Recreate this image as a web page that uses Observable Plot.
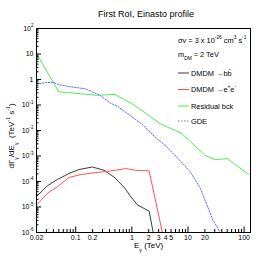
<!DOCTYPE html>
<html><head><meta charset="utf-8">
<script src="https://cdn.jsdelivr.net/npm/d3@7"></script>
<script src="https://cdn.jsdelivr.net/npm/@observablehq/plot@0.6"></script>
<style>
body{margin:0;background:#fff}
svg{font-family:"Liberation Sans",Arial,sans-serif}
</style>
</head><body><div id="chart"></div>
<script>
// ---- data ----
const bbE = [0.0206,0.031,0.047,0.076,0.114,0.198,0.32,0.48,0.73,0.96,1.26,2.03,2.4];
const bbV = [2.74e-5,6.7e-5,1.2e-4,2.06e-4,2.95e-4,3.7e-4,2.76e-4,1.5e-4,5.9e-5,2.5e-5,1.2e-5,6.9e-6,1e-6];
const eeE = [0.0206,0.031,0.047,0.076,0.123,0.21,0.37,0.78,1.18,2.03,3.5];
const eeV = [1.26e-5,3.4e-5,6.2e-5,1.44e-4,1.87e-4,2.2e-4,2.5e-4,3.2e-4,2.75e-4,2.6e-4,1e-6];
const bckE = [0.02,0.05,0.24,0.5,1.14,3.2,7.8,20,30,50,120];
const bckV = [10.5,0.33,0.24,0.26,0.095,0.0185,0.0075,0.00107,0.00072,0.00079,0.00019];
const gdeE = [0.02,0.03,0.04,0.05,0.08,0.15,0.27,0.41,0.55,0.93,1.5,2.6,4,6.3,11,16.6,28,37.7];
const gdeV = [0.67,0.76,0.77,0.63,0.52,0.43,0.24,0.12,0.09,0.039,0.018,0.0055,0.0025,0.0009,0.00024,0.000054,0.000003,0.000001];

const xTickValues = [0.02,0.1,0.2,1,2,3,4,5,10,20,100];
const xTickLabels = ["0.02","0.1","0.2","1","2","3","4","5","10","20","100"];
const yTickValues = [1e-6,1e-5,1e-4,1e-3,1e-2,1e-1,1,10,100];
const yTickLabels = ["10^{-6}","10^{-5}","10^{-4}","10^{-3}","10^{-2}","10^{-1}","1","10","10^{2}"];

const seriesNames = ["DMDM \u2192bb\u0304","DMDM \u2192e^{+}e^{-}","Residual bck","GDE"];
const seriesColors = ["#3a3a3a","#ff5050","#50ee50","#6666ff"];
const seriesDash = [null,null,null,"1.5,1.5"];

const toRows = (E,V) => E.map((e,i)=>({E:e, v:V[i]}));
const series = [toRows(bbE,bbV), toRows(eeE,eeV), toRows(bckE,bckV), toRows(gdeE,gdeV)];

// ticks
const xMajor=[], xMinor=[], yMajor=[], yMinor=[];
for (let p=-2;p<=2;p++){ for(let k=1;k<=9;k++){ const v=k*10**p; if(v<0.02-1e-9||v>130) continue; (k===1?xMajor:xMinor).push(v);} }
for (let p=-6;p<=2;p++){ for(let k=1;k<=9;k++){ const v=k*10**p; if(v>100+1e-9) continue; (k===1?yMajor:yMinor).push(v);} }

const W=270,H=260,mL=36,mR=20,mT=28,mB=28;
const pw=W-mL-mR, ph=H-mT-mB;

const plot = Plot.plot({
  width:W, height:H, marginLeft:mL, marginRight:mR, marginTop:mT, marginBottom:mB,
  style:{fontFamily:"'Liberation Sans',Arial,sans-serif", fontSize:"7px", background:"#fff", color:"#000"},
  x:{type:"log", domain:[0.02,130], axis:null},
  y:{type:"log", domain:[1e-6,100], axis:null},
  marks:[
    ...series.map((s,i)=>Plot.line(s,{x:"E",y:"v",stroke:seriesColors[i],strokeWidth:1,strokeDasharray:seriesDash[i],clip:true})),
    Plot.tickX(xMajor,{x:d=>d, insetTop:ph-5.5, stroke:"#000"}),
    Plot.tickX(xMinor,{x:d=>d, insetTop:ph-3, stroke:"#000"}),
    Plot.tickY(yMajor,{y:d=>d, insetRight:pw-5, stroke:"#000"}),
    Plot.tickY(yMinor,{y:d=>d, insetRight:pw-2.5, stroke:"#000"}),
    Plot.frame({stroke:"#000"}),
    Plot.text(xTickValues,{x:d=>d, text:(d,i)=>xTickLabels[i], frameAnchor:"bottom", lineAnchor:"top", dy:3, fill:"#000"}),
    Plot.text(yTickValues,{y:d=>d, text:(d,i)=>yTickLabels[i], frameAnchor:"left", textAnchor:"end", dx:-3, fill:"#000"})
  ]
});
document.getElementById("chart").appendChild(plot);

function rich(sel, str, size){
  sel.text(null);
  const re=/([\^_])\{([^}]*)\}/g; const parts=[]; let last=0,m;
  while((m=re.exec(str))){ if(m.index>last) parts.push({t:str.slice(last,m.index),k:""}); parts.push({t:m[2],k:m[1]}); last=re.lastIndex; }
  if(last<str.length) parts.push({t:str.slice(last),k:""});
  let cur=0;
  for(const p of parts){
    const target = p.k==="^" ? -0.5*size : p.k==="_" ? 0.45*size : 0;
    sel.append("tspan").attr("dy",target-cur).attr("font-size",p.k?size*0.65:size).text(p.t);
    cur=target;
  }
}
const svg = d3.select(plot);
svg.selectAll("text").each(function(){ const t=d3.select(this); const s=t.text(); if(s.includes("^{")) rich(t,s,7); });

// title
svg.append("text").attr("x",146).attr("y",17).attr("text-anchor","middle").attr("font-size",9).text("First RoI, Einasto profile");
// axis titles
const xt = svg.append("text").attr("x",134).attr("y",248).attr("text-anchor","start").attr("font-size",8);
rich(xt,"E_{\u03b3} (TeV)",8);
const yt = svg.append("text").attr("transform","translate(14,136) rotate(-90)").attr("text-anchor","middle").attr("font-size",8);
rich(yt,"d\u0393_{\u03b3}/dE_{\u03b3}  (TeV^{-1} s^{-1})",8);

// legend
const fs = 7.4;
const t1 = svg.append("text").attr("x",178).attr("y",43).attr("text-anchor","start").attr("font-size",fs);
rich(t1,"\u03c3v = 3 x 10^{-26} cm^{3} s^{-1}",fs);
const t2 = svg.append("text").attr("x",178).attr("y",57).attr("text-anchor","start").attr("font-size",fs);
rich(t2,"m_{DM} = 2 TeV",fs);
const legY=[73,89.5,106,121];
seriesNames.forEach((n,i)=>{
  svg.append("line").attr("x1",178).attr("x2",189).attr("y1",legY[i]).attr("y2",legY[i])
    .attr("stroke",seriesColors[i]).attr("stroke-width",1).attr("stroke-dasharray",seriesDash[i]);
  const t = svg.append("text").attr("x",191).attr("y",legY[i]+2.5).attr("text-anchor","start").attr("font-size",fs);
  rich(t,n,fs);
});
</script>
</body></html>
